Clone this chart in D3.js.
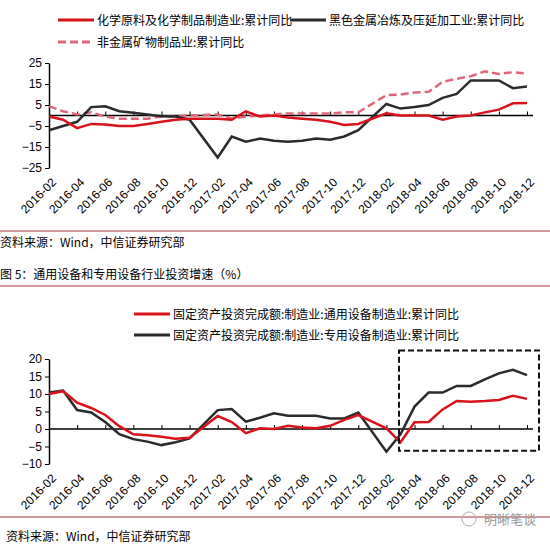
<!DOCTYPE html>
<html>
<head>
<meta charset="utf-8">
<script src="https://cdn.jsdelivr.net/npm/d3@7"></script>
<style>
  body { margin: 0; background: #fff; }
  text { font-family: "Noto Sans CJK SC", "Liberation Sans", sans-serif; }
</style>
</head>
<body>
<script>
// months 2016-02 .. 2018-12 (Jan has no data)
var allMonths = [];
[2016, 2017, 2018].forEach(function(y){
    for (var m = 1; m <= 12; m++) {
        if (y == 2016 && m == 1) continue;
        allMonths.push(y + "-" + (m < 10 ? "0" + m : m));
    }
});
var dataMonths = allMonths.filter(function(d){ return d.slice(5) != "01"; });
var tickLabels = allMonths.filter(function(d, i){ return i % 2 == 0; });

// top chart series (33 values, Jan skipped)
var chem  = [-0.5,-2,-6,-4,-4.3,-5,-5,-4,-3,-2,-1.5, -1.5,-2,2,-0.5,0,-1,-1.5,-2,-3,-4.5,-4, 1,0,0,0,-2,-0.5,0,1.5,2.8,5.8,6];
var steel = [-7,-5,-3,4,4.4,2,1.3,0.5,-0.3,-0.5,-2, -20,-10,-12.5,-11,-12,-12.5,-12,-11,-11.5,-10,-7, 5.5,3.3,4,5,8.4,10.3,16.7,16.7,16.7,13,13.8];
var nonMetal = [4.5,2,0.5,1.5,-0.5,-1.5,-1.5,-1.5,-0.5,-0.5,0, 0.5,-1.5,-0.5,0,0.5,1,1,1,1,1.5,1.5, 9.7,10,11,11.3,16,17.5,18.7,21,19.8,20.6,20];
var topTicks = [25, 15, 5, -5, -15, -25];

// bottom chart series
var general = [10,10.8,7.5,6,4,0.8,-1.5,-1.8,-2.2,-2.8,-2.5, 3.7,2,-1.2,0.2,0,0.9,0.4,0.2,0.9,2.6,4, 0.2,-3.8,1.9,2,5.6,8,7.8,8,8.3,9.5,8.6];
var special = [10.4,11,5.4,4.7,2,-1.5,-2.9,-3.6,-4.6,-3.8,-2.7, 5.4,5.7,2.1,3.2,4.5,3.8,3.8,3.8,3,3,4.7, -6.5,-1.5,6.4,10.4,10.4,12.3,12.3,14.2,15.9,16.9,15.4];
var bottomTicks = [20, 15, 10, 5, 0, -5, -10];

var W = 550, H = 546;
var RED = "#d9121b", BLACK = "#2b2b2b", PINK = "#e0677a";

var svg = d3.select("body").append("svg").attr("width", W).attr("height", H);

var x = d3.scalePoint().domain(allMonths).range([49, 527]);

function drawChart(yRange, domain, ticks, series) {
    var y = d3.scaleLinear().domain(domain).range(yRange);
    var g = svg.append("g");
    g.append("g")
        .attr("transform", "translate(49,0)")
        .call(d3.axisLeft(y).tickValues(ticks).tickSize(4).tickSizeOuter(0))
        .call(function(a){
            a.select(".domain").attr("stroke", "#000").attr("stroke-width", 1.5);
            a.selectAll("text").attr("font-size", 12).attr("fill", "#000")
              .style("font-family", "Liberation Sans, sans-serif");
        });
    g.append("g")
        .attr("transform", "translate(0," + y(0) + ")")
        .call(d3.axisBottom(x).tickValues(tickLabels).tickSize(-4).tickSizeOuter(0).tickFormat(""))
        .call(function(a){
            a.select(".domain").attr("d", "M49,0H533").attr("stroke", "#000").attr("stroke-width", 1.5);
        });
    g.selectAll(".xl").data(tickLabels).enter().append("text")
        .attr("transform", function(d){ return "translate(" + (x(d) + 8) + "," + (yRange[0] + 15) + ") rotate(-45)"; })
        .attr("text-anchor", "end")
        .attr("font-size", 12)
        .style("font-family", "Liberation Sans, sans-serif")
        .text(function(d){ return d; });
    var line = d3.line()
        .x(function(d, i){ return x(dataMonths[i]); })
        .y(function(d){ return y(d); });
    series.forEach(function(s){
        g.append("path").datum(s.values)
            .attr("fill", "none")
            .attr("stroke", s.color)
            .attr("stroke-width", 2.5)
            .attr("stroke-dasharray", s.dash || null)
            .attr("d", line);
    });
    return y;
}

function legend(x0, y0, color, dash, label) {
    svg.append("line").attr("x1", x0).attr("x2", x0 + 36).attr("y1", y0).attr("y2", y0)
        .attr("stroke", color).attr("stroke-width", 3).attr("stroke-dasharray", dash || null);
    svg.append("text").attr("x", x0 + 39).attr("y", y0 + 4.5).attr("font-size", 12).text(label);
}

// top chart
drawChart([168, 63], [-25, 25], topTicks, [
    { values: nonMetal, color: PINK, dash: "8,4" },
    { values: steel, color: BLACK },
    { values: chem, color: RED }
]);
legend(58, 20, RED, null, "化学原料及化学制品制造业:累计同比");
legend(290, 20, BLACK, null, "黑色金属冶炼及压延加工业:累计同比");
legend(58, 42, PINK, "8,4", "非金属矿物制品业:累计同比");

svg.append("line").attr("x1", 0).attr("x2", W).attr("y1", 231).attr("y2", 231).attr("stroke", "#a8323a").attr("stroke-width", 1);
svg.append("text").attr("x", 0).attr("y", 247).attr("font-size", 12).text("资料来源：Wind，中信证券研究部");
svg.append("text").attr("x", 0).attr("y", 279).attr("font-size", 12).text("图 5：通用设备和专用设备行业投资增速（%）");
svg.append("line").attr("x1", 0).attr("x2", W).attr("y1", 286).attr("y2", 286).attr("stroke", "#a8323a").attr("stroke-width", 1);

// bottom chart
var yb = drawChart([464, 359], [-10, 20], bottomTicks, [
    { values: special, color: BLACK },
    { values: general, color: RED }
]);
legend(134, 314, RED, null, "固定资产投资完成额:制造业:通用设备制造业:累计同比");
legend(134, 335, BLACK, null, "固定资产投资完成额:制造业:专用设备制造业:累计同比");

// highlight box
svg.append("rect")
    .attr("x", 399).attr("y", yb(22.4))
    .attr("width", 140).attr("height", yb(-6.2) - yb(22.4))
    .attr("fill", "none").attr("stroke", "#111").attr("stroke-width", 2).attr("stroke-dasharray", "6,3");

svg.append("line").attr("x1", 0).attr("x2", W).attr("y1", 517).attr("y2", 517).attr("stroke", "#a8323a").attr("stroke-width", 1);
svg.append("text").attr("x", 6).attr("y", 541).attr("font-size", 12).text("资料来源：Wind，中信证券研究部");
svg.append("text").attr("x", 484).attr("y", 524).attr("font-size", 13).attr("fill", "#999").text("明晰笔谈");
svg.append("circle").attr("cx", 469).attr("cy", 519).attr("r", 7).attr("fill", "none").attr("stroke", "#aaa");
</script>
</body>
</html>
